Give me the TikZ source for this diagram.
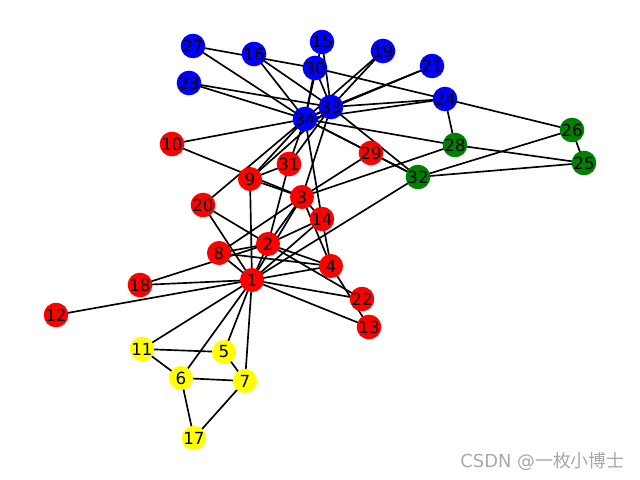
\documentclass[tikz,border=0pt]{standalone}
\usepackage{fontspec}
\setmainfont{DejaVu Sans}
\newfontfamily\cjkfont{Noto Sans CJK SC}
\usetikzlibrary{backgrounds}
\definecolor{nred}{HTML}{FF0000}
\definecolor{nblue}{HTML}{0000FF}
\definecolor{ngreen}{HTML}{008000}
\definecolor{nyellow}{HTML}{FFFF00}
\definecolor{wmark}{HTML}{A8A8A8}
\begin{document}
\begin{tikzpicture}[x=0.72pt,y=-0.72pt,
  vx/.style={circle,inner sep=0pt,minimum size=17.3pt,font=\fontsize{12}{12}\selectfont,text=black},
  rv/.style={vx,fill=nred},
  bv/.style={vx,fill=nblue},
  gv/.style={vx,fill=ngreen},
  yv/.style={vx,fill=nyellow},
  edge/.style={draw=black,line width=1.2pt}]
\useasboundingbox (0,0) rectangle (640,480);
\node[rv] (n1) at (252,280) {1};
\node[rv] (n2) at (268,244) {2};
\node[rv] (n3) at (302,197) {3};
\node[rv] (n4) at (331,266) {4};
\node[yv] (n5) at (224,352) {5};
\node[yv] (n6) at (181,378) {6};
\node[yv] (n7) at (245,381) {7};
\node[rv] (n8) at (219,253) {8};
\node[rv] (n9) at (250,179) {9};
\node[rv] (n10) at (172,144) {10};
\node[yv] (n11) at (142,349) {11};
\node[rv] (n12) at (56,315) {12};
\node[rv] (n13) at (369,327) {13};
\node[rv] (n14) at (322,219) {14};
\node[bv] (n15) at (322,42) {15};
\node[bv] (n16) at (254,54) {16};
\node[yv] (n17) at (194,438) {17};
\node[rv] (n18) at (140,285) {18};
\node[bv] (n19) at (383,51) {19};
\node[rv] (n20) at (203,205) {20};
\node[bv] (n21) at (432,66) {21};
\node[rv] (n22) at (362,299) {22};
\node[bv] (n23) at (189,83) {23};
\node[bv] (n24) at (445,99) {24};
\node[gv] (n25) at (584,163) {25};
\node[gv] (n26) at (572,130) {26};
\node[bv] (n27) at (193,46) {27};
\node[gv] (n28) at (455,145) {28};
\node[rv] (n29) at (371,153) {29};
\node[bv] (n30) at (315,68) {30};
\node[rv] (n31) at (289,164) {31};
\node[gv] (n32) at (418,177) {32};
\node[bv] (n33) at (331,107) {33};
\node[bv] (n34) at (305,119) {34};
\begin{scope}[on background layer]
\foreach \a/\b in {1/2,1/3,1/4,1/5,1/6,1/7,1/8,1/9,1/11,1/12,1/13,1/14,1/18,1/20,1/22,1/32,
  2/3,2/4,2/8,2/14,2/18,2/20,2/22,2/31,
  3/4,3/8,3/9,3/10,3/14,3/28,3/29,3/33,
  4/8,4/13,4/14,5/7,5/11,6/7,6/11,6/17,7/17,
  9/31,9/33,9/34,10/34,14/34,15/33,15/34,16/33,16/34,19/33,19/34,20/34,21/33,21/34,
  23/33,23/34,24/26,24/28,24/30,24/33,24/34,25/26,25/28,25/32,26/32,27/30,27/34,
  28/34,29/32,29/34,30/33,30/34,31/33,31/34,32/33,32/34,33/34}
  \draw[edge] (n\a.center) -- (n\b.center);
\end{scope}
\node[anchor=east,inner sep=0pt,text=wmark,font=\fontsize{12.9}{13}\selectfont] (wm) at (625,462) {CSDN @{\cjkfont 一枚小博士}};
\end{tikzpicture}
\end{document}
